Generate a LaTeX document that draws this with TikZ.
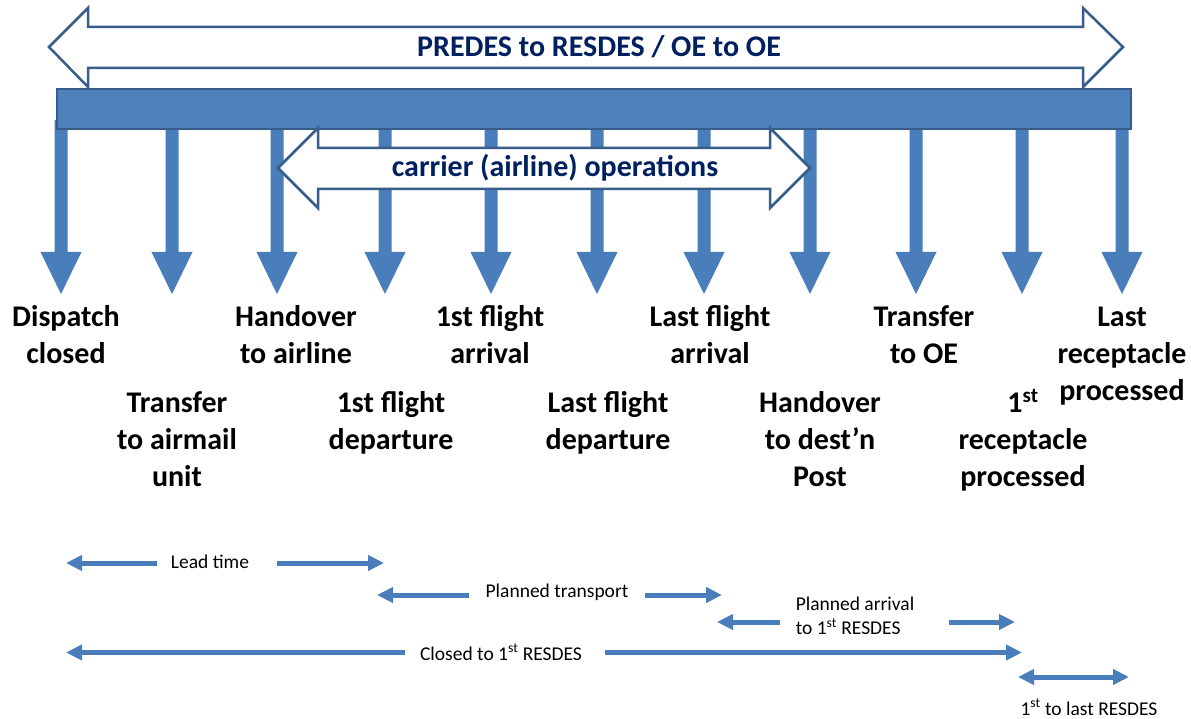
\documentclass[tikz,border=0pt]{standalone}
\usepackage{fontspec}
\setmainfont{Carlito}
\usetikzlibrary{arrows.meta}
\definecolor{arrowblue}{RGB}{74,126,187}
\definecolor{barblue}{RGB}{79,129,189}
\definecolor{barline}{RGB}{56,93,138}
\definecolor{navy}{RGB}{0,32,96}
\begin{document}
\begin{tikzpicture}[x=1pt,y=-1pt,
  lbl/.style={font=\fontsize{30}{37}\selectfont\bfseries, align=center, anchor=base, inner sep=0pt},
  head/.style={font=\fontsize{30}{37}\selectfont\bfseries, text=navy, inner sep=0pt},
  small/.style={font=\fontsize{19.5}{24.5}\selectfont, inner sep=0pt},
  dim/.style={draw=arrowblue, line width=5pt, -{Triangle[length=16pt,width=15pt]}},
  dimboth/.style={draw=arrowblue, line width=5pt, {Triangle[length=16pt,width=15pt]}-{Triangle[length=16pt,width=15pt]}},
  hollow/.style={draw=barline, line width=2.5pt, fill=white, line join=miter},
  drop/.style={fill=arrowblue},
]
\useasboundingbox (0,0) rectangle (1191,719);

% overall span arrow
\draw[hollow] (49,47) -- (88,8) -- (88,27) -- (1083,27) -- (1083,8) -- (1123,47)
  -- (1083,87) -- (1083,68) -- (88,68) -- (88,87) -- cycle;
\node[head] (title) at (599,47) {PREDES to RESDES / OE to OE};

% event arrows
\foreach \x [count=\i] in {61,172,277,385,491,597,704,810,916,1022,1122} {
  \fill[drop] (\x-6.5,120) -- (\x+6.5,120) -- (\x+6.5,252) -- (\x+20.5,252)
     -- (\x,294) -- (\x-20.5,252) -- (\x-6.5,252) -- cycle;
  \coordinate (tip\i) at (\x,294);
}

% time bar
\node[draw=barline, fill=barblue, line width=2pt, minimum width=1074pt,
  minimum height=40pt, inner sep=0pt, anchor=north west] (bar) at (56,88) {};

% carrier operations arrow
\draw[hollow] (278,168) -- (318,128) -- (318,148) -- (770,148) -- (770,128) -- (810,168)
  -- (770,208) -- (770,189) -- (318,189) -- (318,208) -- cycle;
\node[head] (carrier) at (555,168) {carrier (airline) operations};

% event labels (anchor base = baseline of last line)
\node[lbl] (l1) at (66,363) {Dispatch\\closed};
\node[lbl] (l2) at (177,486) {Transfer\\to airmail\\unit};
\node[lbl] (l3) at (296,363) {Handover\\to airline};
\node[lbl] (l4) at (391,449) {1st flight\\departure};
\node[lbl] (l5) at (490,363) {1st flight\\arrival};
\node[lbl] (l6) at (608,449) {Last flight\\departure};
\node[lbl] (l7) at (710,363) {Last flight\\arrival};
\node[lbl] (l8) at (820,486) {Handover\\to dest’n\\Post};
\node[lbl] (l9) at (924,363) {Transfer\\to OE};
\node[lbl] (l10) at (1023,486) {1\textsuperscript{st}\\receptacle\\processed};
\node[lbl] (l11) at (1122,400) {Last\\receptacle\\processed};

% durations
\node[small] (lead) at (210,562) {Lead time};
\coordinate (leadL) at (66,563);   \coordinate (leadA) at (157,563);
\coordinate (leadR) at (384,563);  \coordinate (leadB) at (276.5,563);
\draw[dim] (leadA) -- (leadL);
\draw[dim] (leadB) -- (leadR);

\node[small] (plan) at (557,592) {Planned transport};
\coordinate (planL) at (377,595);  \coordinate (planA) at (469,595);
\coordinate (planR) at (722,595);  \coordinate (planB) at (645,595);
\draw[dim] (planA) -- (planL);
\draw[dim] (planB) -- (planR);

\node[small, align=left] (arr) at (855,616) {Planned arrival\\to 1\textsuperscript{st} RESDES};
\coordinate (arrL) at (717,622);  \coordinate (arrA) at (780,622);
\coordinate (arrR) at (1015,622); \coordinate (arrB) at (949,622);
\draw[dim] (arrA) -- (arrL);
\draw[dim] (arrB) -- (arrR);

\node[small] (closed) at (501,652) {Closed to 1\textsuperscript{st} RESDES};
\coordinate (clL) at (66,652.5);   \coordinate (clA) at (405,652.5);
\coordinate (clR) at (1022,652.5); \coordinate (clB) at (604.5,652.5);
\draw[dim] (clA) -- (clL);
\draw[dim] (clB) -- (clR);

\coordinate (lastL) at (1018,677); \coordinate (lastR) at (1129,677);
\draw[dimboth] (lastL) -- (lastR);
\node[small] (last) at (1089,707) {1\textsuperscript{st} to last RESDES};
\end{tikzpicture}
\end{document}
